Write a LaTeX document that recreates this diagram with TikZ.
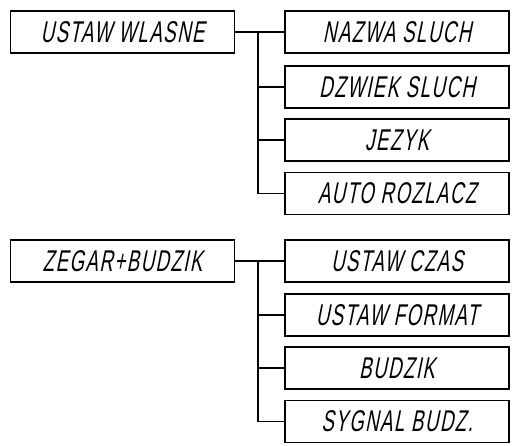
\documentclass[tikz,border=0pt]{standalone}
\usepackage{fontspec}
\newfontfamily\lcdfont{Liberation Sans}[FakeSlant=0.2,FakeStretch=0.62,LetterSpace=5]
\begin{document}
\begin{tikzpicture}[x=1pt,y=-1pt]
			\useasboundingbox (0,0) rectangle (512,445);
			\begin{scope}[every node/.style={rectangle,draw,line width=1.8pt,minimum width=224pt,minimum height=42pt,inner sep=0pt,font=\lcdfont\fontsize{30}{30}\selectfont}]
				\node (U) at (122.5,32) {USTAW WLASNE};
				\node (U1) at (397,32) {NAZWA SLUCH};
				\node (U2) at (397,87) {DZWIEK SLUCH};
				\node (U3) at (397,140) {JEZYK};
				\node (U4) at (397,193.5) {AUTO ROZLACZ};
				
				\node (Z) at (122.5,261) {ZEGAR+BUDZIK};
				\node (Z1) at (397,261) {USTAW CZAS};
				\node (Z2) at (397,315) {USTAW FORMAT};
				\node (Z3) at (397,368) {BUDZIK};
				\node (Z4) at (397,421.5) {SYGNAL BUDZ.};
			\end{scope}
			
			\coordinate (Uj) at (258,32);
			\coordinate (Zj) at (258,261);
			
			\begin{scope}[every edge/.style={draw=black,line width=1.8pt,line cap=rect}]
				\path (U) edge (U1);
				\path (Uj) edge (Uj |- U4);
				\path (Uj |- U2) edge (U2);
				\path (Uj |- U3) edge (U3);
				\path (Uj |- U4) edge (U4);
				
				\path (Z) edge (Z1);
				\path (Zj) edge (Zj |- Z4);
				\path (Zj |- Z2) edge (Z2);
				\path (Zj |- Z3) edge (Z3);
				\path (Zj |- Z4) edge (Z4);
			\end{scope}
		\end{tikzpicture}
\end{document}
